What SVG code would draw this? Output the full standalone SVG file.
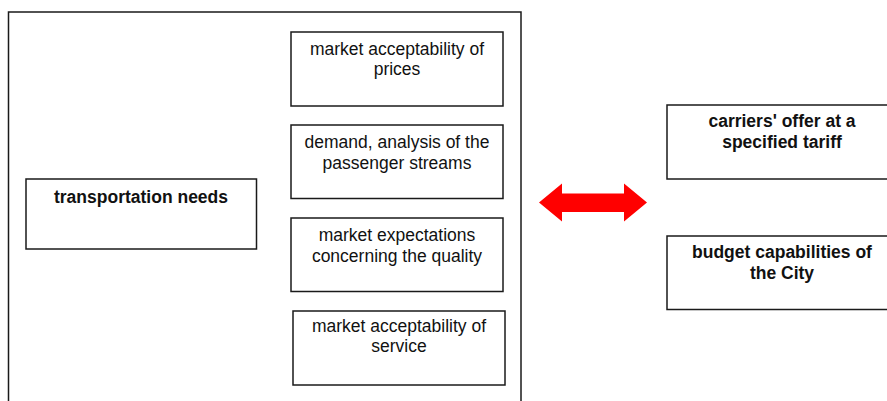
<svg xmlns="http://www.w3.org/2000/svg" width="887" height="401" viewBox="0 0 887 401">
<style>
.box{fill:#fff;stroke:#1a1a1a;stroke-width:1.5}
.t{font-family:"Liberation Sans",Arial,sans-serif;font-size:17.5px;fill:#111;text-anchor:middle}
.b{font-weight:bold}
</style>
<rect width="887" height="401" fill="#fff"/>
<rect id="frame" x="8.5" y="12" width="512.5" height="400" fill="none" stroke="#1a1a1a" stroke-width="1.5"/>
<g id="transportation-needs">
<rect class="box" x="26" y="179" width="230.5" height="70"/>
<text class="t b" x="141" y="203">transportation needs</text>
</g>
<g id="prices">
<rect class="box" x="291" y="32" width="212" height="74"/>
<text class="t" x="397" y="54.5">market acceptability of</text>
<text class="t" x="397" y="75">prices</text>
</g>
<g id="demand">
<rect class="box" x="291" y="125" width="212" height="73.5"/>
<text class="t" x="397" y="148">demand, analysis of the</text>
<text class="t" x="397" y="168.5">passenger streams</text>
</g>
<g id="expectations">
<rect class="box" x="291" y="218" width="212" height="73.5"/>
<text class="t" x="397" y="241">market expectations</text>
<text class="t" x="397" y="261.5">concerning the quality</text>
</g>
<g id="service">
<rect class="box" x="293" y="311" width="212" height="74"/>
<text class="t" x="399" y="331.5">market acceptability of</text>
<text class="t" x="399" y="352">service</text>
</g>
<g id="carriers">
<rect class="box" x="667" y="105" width="231" height="74"/>
<text class="t b" x="782" y="127.3">carriers' offer at a</text>
<text class="t b" x="782" y="148">specified tariff</text>
</g>
<g id="budget">
<rect class="box" x="667" y="236" width="231" height="73.5"/>
<text class="t b" x="782" y="258">budget capabilities of</text>
<text class="t b" x="782" y="279">the City</text>
</g>
<g id="connectors">
<polygon points="539,202.5 562,183.5 562,193.5 624,193.5 624,183.5 647,202.5 624,221.5 624,212 562,212 562,221.5" fill="#ff0000"/>
</g>
</svg>
